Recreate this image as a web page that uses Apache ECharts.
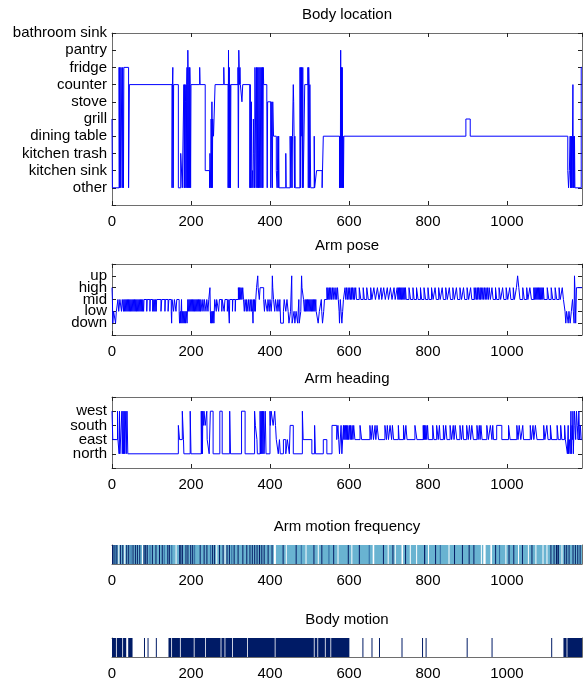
<!DOCTYPE html>
<html lang="en">
<head>
<meta charset="UTF-8">
<title>Activity panels</title>
<style>
  html, body { margin: 0; padding: 0; background: #fff; }
  #main { width: 583px; height: 683px; }
</style>
</head>
<body>
<div id="main"></div>
<script src="https://cdn.jsdelivr.net/npm/echarts@6/dist/echarts.min.js"></script>
<script>
// x range of every panel (samples)
var xMax = 1190;
var xTickStep = 200;

// category names, index = level
var locationNames = ['other', 'kitchen sink', 'kitchen trash', 'dining table', 'grill',
  'stove', 'counter', 'fridge', 'pantry', 'bathroom sink'];
var poseNames = ['down', 'low', 'mid', 'high', 'up'];
var headingNames = ['north', 'east', 'south', 'west'];

// step series: [sample where the level starts, level]
var bodyLocation = [
  [0,4],[1,0],[18,7],[19,0],[20,7],[22,0],[23,7],[26,0],[27,7],[29,0],[30,7],[42,0],[44,6],
  [152,0],[153,6],[154,7],[155,0],[156,6],[168,0],[174,2],[178,0],
  [182,6],[183,0],[184,6],[185,0],[186,5],[187,6],[188,0],[189,6],[190,7],[191,0],[192,8],[193,6],[194,0],[195,7],[196,0],[197,7],[198,6],[199,0],[200,6],
  [222,7],[223,6],[236,1],[247,0],[248,2],[250,0],[251,4],[252,0],[253,5],[254,0],[255,4],[257,3],[261,6],
  [283,7],[284,6],[294,0],[295,8],[296,0],[297,7],[298,0],[299,6],[300,0],[301,6],
  [319,7],[320,0],[321,8],[322,7],[323,6],[324,7],[325,6],[329,5],[331,6],
  [349,0],[350,6],[351,0],[353,5],[354,0],[356,1],[357,0],[358,4],[359,2],[361,0],
  [362,7],[365,0],[366,7],[368,0],[369,7],[371,0],[372,7],[374,0],[375,7],[377,0],[378,7],[380,0],[381,7],[382,0],[383,7],[384,6],
  [392,5],[393,0],[394,5],[402,0],[403,5],[404,3],[406,0],[407,5],[409,3],
  [416,1],[418,0],[419,1],[420,3],[421,0],[422,3],[423,0],[440,2],[441,0],
  [451,3],[453,0],[454,3],[456,0],[457,3],[459,6],[460,5],[461,3],[462,0],[463,3],[464,0],
  [476,7],[477,0],[478,7],[479,3],[480,7],[482,0],[483,7],[484,0],
  [488,6],[496,7],[497,0],[498,7],[499,6],[500,0],[501,6],[503,0],[512,3],[513,0],
  [518,1],[532,0],[535,3],
  [576,0],[577,3],[578,0],[579,8],[580,0],[581,7],[582,0],[583,7],[584,0],[585,3],[586,0],[587,3],
  [896,4],[907,3],
  [1154,1],[1156,0],[1158,1],[1160,3],[1161,0],[1162,3],[1163,0],[1164,3],[1165,0],[1166,3],[1167,6],[1168,0],[1169,3],[1170,0],[1171,3],[1172,0],
  [1188,7],[1190,7]
];

var armPose = [
  [0,3],[1,2],[2,0],[4,1],[9,0],[11,1],[15,2],[17,1],[20,2],[24,1],[26,2],
  [29,1],[30,2],[32,1],[33,2],[35,1],[36,2],[38,1],[39,2],[41,1],[42,2],[44,1],[45,2],[47,1],[48,2],[50,1],[51,2],[53,1],[54,2],[56,1],[57,2],[59,1],[60,2],[62,1],[63,2],[65,1],[66,2],[68,1],[69,2],[71,1],[72,2],[74,1],[75,2],[77,1],[78,2],[80,1],[81,2],
  [88,1],[89,2],[96,1],[97,2],[103,1],[104,2],[106,1],[107,2],[109,1],[110,2],[112,1],[113,2],
  [124,1],[126,2],[134,1],[135,2],[142,1],[144,2],[150,1],[151,0],[152,2],[156,1],[158,2],[162,1],[164,2],
  [170,1],[171,0],[173,1],[174,0],[176,2],[177,0],[179,1],[180,0],[182,1],[183,0],[185,1],[186,0],[188,1],[190,0],[192,2],
  [194,1],[195,2],[197,1],[198,2],[200,1],[201,2],[203,1],[204,2],[206,1],[207,2],[209,1],[210,2],[212,1],[213,2],[215,1],[216,2],[218,1],[219,2],[221,1],[222,2],[224,1],[225,2],[228,1],[230,2],[233,1],[234,2],[238,1],[240,2],[243,1],[245,2],
  [248,3],[249,1],[250,0],[251,1],[252,0],[254,1],[255,0],[257,1],[258,0],[260,2],[264,1],[265,2],[270,1],[272,2],[278,1],[279,2],[284,1],[286,2],[292,1],[294,2],[297,0],[298,2],[305,1],[306,2],[312,1],[313,2],
  [320,3],[321,2],[322,3],[323,2],[324,3],[326,2],[327,3],[329,2],[331,3],[333,2],[335,1],[337,2],[340,1],[341,2],[344,1],[346,2],[349,1],[350,2],[353,1],[354,2],[356,1],[357,0],[358,2],[360,1],[361,2],[363,1],[364,2],
  [366,3],[369,4],[370,3],[373,2],[375,3],[384,2],[386,1],[388,2],[393,1],[395,2],[398,1],[400,2],[403,1],[405,2],[406,4],[407,3],[409,2],[412,1],[414,2],[418,1],[420,2],[423,1],[425,2],
  [427,0],[434,1],[436,2],[440,1],[443,2],[446,1],[448,0],[452,1],[455,4],[456,0],
  [461,1],[463,0],[466,1],[470,0],[473,2],[474,0],[478,1],[480,4],[481,3],[485,2],[487,1],
  [489,2],[490,1],[492,2],[493,1],[495,2],[496,1],[498,2],[499,1],[501,2],[502,1],[504,2],[505,1],[507,2],[508,1],[510,2],[511,1],[513,2],[514,1],[516,2],[517,1],
  [522,0],[525,1],[530,2],[531,1],[533,0],[536,1],[538,2],
  [544,3],[546,2],[547,3],[549,2],[551,3],[552,2],[554,3],[556,2],[558,3],[560,2],[562,3],[565,2],[567,3],[569,2],[571,3],[573,2],[575,1],[576,0],[578,2],[580,1],[582,0],[584,1],[586,2],
  [590,3],[592,2],[594,3],[596,2],[598,3],[600,2],[602,3],[604,2],[606,3],[607,2],[609,3],[611,2],[613,3],[614,2],[617,3],[619,2],
  [626,3],[630,2],[636,3],[639,2],[645,3],[649,2],[655,3],[658,2],[663,3],[667,2],[672,3],[676,2],[681,3],[683,2],[688,3],[692,2],[697,3],[700,2],[705,3],[709,2],[714,3],[717,2],
  [722,3],[724,2],[725,3],[727,2],[728,3],[730,2],[731,3],[733,2],[734,3],[736,2],[737,3],[739,2],[740,3],[742,2],[743,3],[745,2],
  [752,3],[756,2],[762,3],[765,2],[771,3],[775,2],[781,3],[784,2],[790,3],[794,2],[800,3],[803,2],[809,3],[813,2],[818,3],[821,2],[827,3],[831,2],[836,3],[839,2],[845,3],[849,2],[854,3],[857,2],[863,3],[867,2],[872,3],[875,2],[881,3],[885,2],[890,3],[893,2],[899,3],[903,2],[908,3],[911,2],[917,3],
  [919,2],[921,3],[923,2],[925,3],[926,2],[928,3],[930,2],[932,3],[933,2],[935,3],[937,2],[939,3],[941,2],[943,3],[945,2],[947,3],[949,2],[951,3],[953,2],[955,3],[958,2],[962,3],[965,2],
  [971,3],[974,2],[980,3],[984,2],[989,3],[992,2],[998,3],[1002,2],[1007,3],[1010,2],[1016,3],[1019,2],[1024,3],[1027,4],[1030,3],[1033,2],[1040,3],[1044,2],[1050,3],[1053,2],[1058,3],[1062,2],
  [1068,3],[1070,2],[1071,3],[1073,2],[1074,3],[1076,2],[1077,3],[1079,2],[1080,3],[1082,2],[1083,3],[1085,2],[1086,3],[1088,2],[1089,3],[1091,2],[1092,3],[1094,2],
  [1102,3],[1106,2],[1112,3],[1116,2],[1122,3],[1126,2],[1132,3],[1135,2],[1140,3],[1143,2],
  [1147,1],[1149,0],[1151,1],[1155,0],[1157,1],[1160,0],[1163,1],[1166,2],[1168,1],[1170,0],[1171,4],[1172,3],[1174,0],[1176,3],[1190,3]
];

var armHeading = [
  [0,3],[2,1],[14,3],[15,1],[18,0],[19,3],[20,0],[25,3],[26,0],[28,3],[29,0],[31,3],[32,0],[35,3],[36,0],[38,3],[40,0],
  [168,2],[171,1],[178,3],[181,1],[182,0],[198,3],[200,0],
  [226,3],[227,0],[228,3],[229,0],[230,3],[232,2],[233,3],[236,2],[240,3],[241,1],[246,0],[249,3],[256,0],
  [273,3],[279,0],[298,3],[300,0],[328,3],[337,0],[361,3],[363,2],[367,1],[368,0],
  [375,3],[376,0],[378,3],[379,0],[381,3],[382,0],[384,3],[385,0],[388,3],[390,0],
  [400,3],[401,2],[403,3],[408,2],[412,3],[414,2],[416,1],[421,0],[424,1],[426,0],
  [434,1],[440,0],[444,1],[449,0],[451,2],[459,0],[482,3],[484,1],[506,0],[513,2],[515,0],
  [535,1],[544,0],[557,2],[569,1],[572,2],[574,1],[576,0],[580,2],[582,0],
  [586,2],[587,1],[588,2],[590,1],[591,2],[593,1],[594,2],[596,1],[597,2],[599,1],[601,2],[603,1],[604,2],[606,1],[608,2],[610,1],[612,2],[615,1],
  [628,2],[632,1],[653,2],[656,1],[659,2],[662,1],[666,2],[668,1],[671,2],[675,1],[691,2],[695,1],[697,2],[700,1],[704,2],[708,1],[710,2],[713,1],
  [725,2],[727,1],[738,2],[741,1],[744,2],[747,1],[767,2],[772,1],
  [788,2],[789,1],[790,2],[791,1],[792,2],[794,1],[795,2],[797,1],[799,2],[801,1],
  [812,2],[815,1],[822,2],[826,1],[829,2],[831,1],[839,2],[842,1],[845,2],[848,1],[856,2],[860,1],[864,2],[866,1],[869,2],[873,1],
  [881,2],[885,1],[888,2],[890,1],[898,2],[902,1],[905,2],[908,1],[911,2],[915,1],[924,2],[927,1],[930,2],[932,1],[934,2],[937,1],
  [949,2],[953,1],[958,2],[962,1],[964,2],[966,1],[974,2],[987,1],[1004,2],[1008,1],[1025,2],[1028,1],[1031,2],[1035,1],[1040,2],[1042,1],
  [1059,2],[1062,1],[1066,2],[1068,1],[1072,2],[1076,1],[1093,2],[1096,1],[1101,2],[1104,1],[1110,2],[1113,1],[1127,2],[1130,1],[1136,2],[1139,1],[1146,2],[1148,1],
  [1153,0],[1155,2],[1156,0],[1158,1],[1160,0],[1162,3],[1163,0],[1165,2],[1166,1],[1167,3],[1168,0],[1170,2],[1171,3],[1174,1],[1176,3],[1178,2],[1180,1],[1182,3],[1184,1],[1186,2],[1188,1],[1190,1]
];

// colour strips: [start, end, level]; first entry is the background run
var armFrequency = [
  [0,1190,1],
  [0,3,3],[4,6,3],[8,9,2],[11,13,3],[16,17,0],[20,22,3],[26,27,3],[31,33,0],[36,37,3],[41,43,3],[47,48,2],[52,54,3],[58,60,3],[63,64,3],[69,70,3],[76,77,0],[80,82,3],[84,85,3],[88,90,3],[95,96,2],
  [101,102,3],[110,111,3],[119,121,3],[126,127,3],[131,132,2],[140,141,3],[144,146,3],[150,151,2],[161,163,0],[170,172,3],[173,175,3],[177,179,3],[186,188,3],[191,192,3],[198,200,3],
  [203,205,3],[208,209,2],[222,223,3],[232,234,3],[239,241,3],[248,250,2],[253,254,3],[258,259,3],[264,266,0],[271,272,3],[280,282,3],[285,286,0],[290,291,3],[296,297,3],
  [302,303,2],[308,309,3],[318,320,3],[330,331,3],[340,342,3],[348,350,3],[354,356,3],[360,362,3],[366,367,3],[372,375,3],[378,380,3],[384,386,3],[394,396,3],
  [404,405,3],[410,415,0],[432,434,3],[440,441,0],[465,467,3],[478,479,2],[490,491,0],
  [510,511,3],[521,522,0],[530,531,3],[548,549,2],[560,562,3],[571,572,0],[597,599,3],
  [606,607,0],[625,627,3],[650,651,2],[660,664,0],[686,688,3],[698,699,0],
  [710,711,3],[716,718,0],[733,737,0],[742,743,3],[754,756,0],[770,772,0],[790,793,3],
  [800,801,0],[818,820,3],[830,831,2],[852,853,0],[866,867,3],[886,887,3],
  [903,905,3],[915,917,3],[934,935,0],[940,946,0],[958,962,0],[970,972,3],[980,981,2],[996,997,0],
  [1004,1005,3],[1016,1018,3],[1028,1030,0],[1038,1040,3],[1053,1055,0],[1062,1064,3],[1072,1073,0],[1090,1092,0],
  [1100,1102,0],[1110,1112,3],[1118,1120,3],[1124,1128,3],[1129,1131,3],[1138,1140,0],[1145,1147,3],[1150,1152,3],[1156,1158,3],[1166,1168,3],[1172,1174,3],[1178,1180,3],[1184,1186,3]
];

var bodyMotion = [
  [0,1190,0],
  [0,10,1],[12,26,1],[28,36,1],[41,52,1],[81,83,1],[90,92,1],[111,113,1],[143,150,1],[152,172,1],[174,207,1],
  [209,236,1],[238,275,1],[277,285,1],[287,304,1],[306,342,1],[344,412,1],[414,511,1],[513,520,1],[522,539,1],[541,553,1],[555,601,1],
  [634,636,1],[657,659,1],[676,678,1],[733,735,1],[785,787,1],[794,796,1],[898,900,1],[961,963,1],[1112,1114,1],[1143,1151,1],[1153,1190,1]
];

var freqColors = ['#ffffff', '#69b3d1', '#2f68a2', '#061d66'];
var motionColors = ['#ffffff', '#001b66'];

var panels = [
  {title: 'Body location', top: 33, height: 172, kind: 'line', data: bodyLocation, names: locationNames, yMax: 9},
  {title: 'Arm pose', top: 264, height: 71, kind: 'line', data: armPose, names: poseNames, yMax: 5},
  {title: 'Arm heading', top: 397, height: 71, kind: 'line', data: armHeading, names: headingNames, yMax: 4},
  {title: 'Arm motion frequency', top: 545, height: 19, kind: 'strip', data: armFrequency, colors: freqColors},
  {title: 'Body motion', top: 638, height: 19, kind: 'strip', data: bodyMotion, colors: motionColors}
];

var font = '"Liberation Sans", Helvetica, Arial, sans-serif';
var axisGray = '#6e6e6e';
var tickDark = '#222';

var grids = [], xAxes = [], yAxes = [], series = [], graphics = [];

panels.forEach(function (p, i) {
  var isLine = p.kind === 'line';
  grids.push({left: 112, right: 1, top: p.top, height: p.height});

  var xBase = {
    type: 'value', gridIndex: i, min: 0, max: xMax, interval: xTickStep,
    splitLine: {show: false},
    axisLine: {show: true, onZero: false, lineStyle: {color: axisGray, width: 1}},
    axisTick: {show: isLine, inside: true, length: 4, lineStyle: {color: tickDark}}
  };
  xAxes.push(Object.assign({}, xBase, {
    position: 'bottom',
    axisLabel: {
      show: true, margin: 9, fontSize: 15, color: '#000', fontFamily: font, showMaxLabel: false,
      formatter: function (v) { return String(v); }
    }
  }));
  xAxes.push(Object.assign({}, xBase, {position: 'top', axisLabel: {show: false}}));

  var yMin = isLine ? -1 : 0;
  var yMax = isLine ? p.yMax : 1;
  var yBase = {
    type: 'value', gridIndex: i, min: yMin, max: yMax, interval: 1,
    splitLine: {show: false},
    axisLine: {show: true, onZero: false, lineStyle: {color: axisGray, width: 1}},
    axisTick: {show: isLine, inside: true, length: 4, lineStyle: {color: tickDark}}
  };
  var names = p.names;
  yAxes.push(Object.assign({}, yBase, {
    position: 'left',
    axisLabel: {
      show: isLine, margin: 5, fontSize: 15, color: '#000', fontFamily: font,
      formatter: function (v) { return names && names[v] !== undefined ? names[v] : ''; }
    }
  }));
  yAxes.push(Object.assign({}, yBase, {position: 'right', axisLabel: {show: false}}));

  if (isLine) {
    series.push({
      type: 'line', xAxisIndex: i * 2, yAxisIndex: i * 2, data: p.data,
      step: 'end', showSymbol: false, symbol: 'none', silent: true,
      lineStyle: {color: '#0000ff', width: 1}, z: 1
    });
  } else {
    var colors = p.colors;
    series.push({
      type: 'custom', xAxisIndex: i * 2, yAxisIndex: i * 2, data: p.data,
      encode: {x: [0, 1]}, silent: true, z: 1,
      renderItem: function (params, api) {
        var a = api.coord([api.value(0), 1]);
        var b = api.coord([api.value(1), 0]);
        var w = Math.max(b[0] - a[0], 1);
        return {
          type: 'rect',
          shape: {x: a[0], y: a[1], width: w, height: b[1] - a[1]},
          style: {fill: colors[api.value(2)]}
        };
      }
    });
  }

  graphics.push({
    type: 'text', x: 347, y: p.top - 18,
    style: {text: p.title, fill: '#000', font: '15px ' + font, align: 'center', verticalAlign: 'middle'}
  });
});

var chart = echarts.init(document.getElementById('main'), null, {renderer: 'canvas'});
chart.setOption({
  animation: false,
  backgroundColor: '#fff',
  grid: grids,
  xAxis: xAxes,
  yAxis: yAxes,
  series: series,
  graphic: graphics
});
</script>
</body>
</html>
